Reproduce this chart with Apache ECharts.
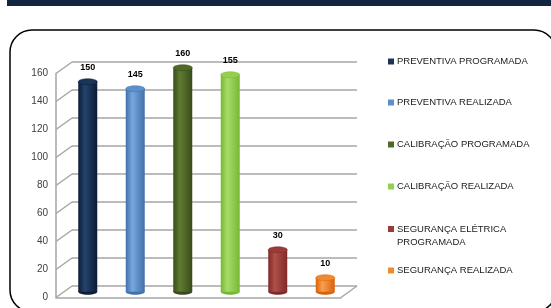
<!DOCTYPE html>
<html lang="pt">
<head>
    <meta charset="UTF-8">
    <script type="text/javascript" src="https://cdn.jsdelivr.net/npm/echarts@6/dist/echarts.min.js"></script>
    <title>Manutenções</title>
    <style>
        html, body { margin: 0; padding: 0; background: #fff; }
    </style>
</head>
<body>
<div id="main" style="width: 551px;height:308px;"></div>
<script type="text/javascript">
    // dados do gráfico
    var categorias = ['PREVENTIVA PROGRAMADA', 'PREVENTIVA REALIZADA', 'CALIBRAÇÃO PROGRAMADA',
        'CALIBRAÇÃO REALIZADA', 'SEGURANÇA ELÉTRICA\nPROGRAMADA', 'SEGURANÇA REALIZADA'];
    var valores = [150, 145, 160, 155, 30, 10];
    var yTicks = [0, 20, 40, 60, 80, 100, 120, 140, 160];

    // cores dos cilindros: [borda escura, brilho, tampa]
    var cores = [
        ['#0b1c35', '#24436d', '#1a3558'],
        ['#3f71ad', '#79a6dc', '#5d8fcc'],
        ['#394b1c', '#5f7d2f', '#4f6a26'],
        ['#77b833', '#a6dc68', '#94d050'],
        ['#7f2a28', '#b0504a', '#9c3a37'],
        ['#d8620a', '#f9a04e', '#f08a2e']
    ];
    var legendaY = [55, 96, 138, 180, 209.5, 264];
    var cinza = '#a6a6a6';

    var myChart = echarts.init(document.getElementById('main'));

    function cilindro(params, api) {
        var i = api.value(0);
        var base = api.coord([i, 0]);
        var topo = api.coord([i, api.value(1)]);
        var c = cores[params.seriesIndex];
        var w = 19, rx = w / 2, ry = 3;
        return {
            type: 'group',
            children: [
                {type: 'ellipse', shape: {cx: base[0], cy: base[1], rx: rx, ry: ry}, style: {fill: c[0]}},
                {
                    type: 'rect',
                    shape: {x: base[0] - rx, y: topo[1], width: w, height: base[1] - topo[1]},
                    style: {
                        fill: new echarts.graphic.LinearGradient(0, 0, 1, 0, [
                            {offset: 0, color: c[0]},
                            {offset: 0.35, color: c[1]},
                            {offset: 1, color: c[0]}
                        ])
                    }
                },
                {type: 'ellipse', shape: {cx: topo[0], cy: topo[1], rx: rx, ry: ry}, style: {fill: c[2], stroke: c[0], lineWidth: 0.5}},
                {
                    type: 'text',
                    style: {
                        text: String(api.value(1)), x: topo[0], y: topo[1] - 14,
                        align: 'center', verticalAlign: 'middle',
                        fontSize: 9, fontWeight: 'bold', fontFamily: 'Liberation Sans', fill: '#000'
                    }
                }
            ]
        };
    }

    // linhas laterais da "parede" 3D
    function parede(params, api) {
        var cs = params.coordSys;
        var p = api.coord([0, api.value(0)]);
        var dx = 16, dy = -11.5;
        var kids = [{
            type: 'line',
            shape: {x1: cs.x, y1: p[1], x2: cs.x + dx, y2: p[1] + dy},
            style: {stroke: cinza, lineWidth: 1.5}
        }];
        if (api.value(0) === 0) {
            kids.push({
                type: 'line',
                shape: {x1: cs.x + cs.width, y1: p[1], x2: cs.x + cs.width + dx, y2: p[1] + dy},
                style: {stroke: cinza, lineWidth: 1.5}
            });
        }
        return {type: 'group', children: kids};
    }

    var series = [];
    var legendas = [];
    for (var i = 0; i < categorias.length; i++) {
        series.push({
            name: categorias[i],
            type: 'custom',
            xAxisIndex: 2,
            yAxisIndex: 2,
            itemStyle: {color: cores[i][2]},
            renderItem: cilindro,
            data: [[i, valores[i]]],
            z: 5
        });
        var duas = categorias[i].indexOf('\n') >= 0;
        var leg = {
            data: [categorias[i]],
            left: 388,
            top: legendaY[i],
            padding: 0,
            orient: 'vertical',
            selectedMode: false,
            itemWidth: 6,
            itemHeight: 6,
            icon: 'rect',
            textStyle: {
                fontSize: 9.5, fontFamily: 'Liberation Sans', color: '#1a1a1a', lineHeight: 13,
                padding: [0, 0, 0, -2]
            }
        };
        if (duas) {
            // linha vazia em cima para o ícone ficar alinhado à primeira linha
            leg.formatter = function (name) {
                return '{e| }\n' + name.split('\n').map(function (s) { return '{a|' + s + '}'; }).join('\n');
            };
            leg.textStyle.rich = {
                e: {lineHeight: 13, fontSize: 9.5},
                a: {lineHeight: 13, fontSize: 9.5, fontFamily: 'Liberation Sans', color: '#1a1a1a'}
            };
        }
        legendas.push(leg);
    }
    series.push({
        type: 'custom',
        xAxisIndex: 1,
        yAxisIndex: 1,
        renderItem: parede,
        data: yTicks.map(function (v) { return [v]; }),
        silent: true,
        z: 1
    });

    var option = {
        animation: false,
        legend: legendas,
        graphic: [
            {type: 'rect', shape: {x: 7, y: 0, width: 544, height: 6}, style: {fill: '#12243f'}},
            {type: 'rect', shape: {x: 10, y: 30, width: 546, height: 282, r: 22}, style: {fill: 'none', stroke: '#000', lineWidth: 1.5}}
        ],
        grid: [
            {left: 72, top: 62, width: 285, height: 224},
            {left: 56, top: 73.5, width: 285, height: 224},
            {left: 64, top: 67.75, width: 285, height: 224}
        ],
        xAxis: [
            {gridIndex: 0, type: 'category', data: categorias, show: false},
            {
                gridIndex: 1, type: 'category', data: categorias,
                axisLine: {show: true, lineStyle: {color: cinza, width: 1.5}},
                axisTick: {show: false}, axisLabel: {show: false}
            },
            {gridIndex: 2, type: 'category', data: categorias, show: false}
        ],
        yAxis: [
            {
                gridIndex: 0, type: 'value', min: 0, max: 160, interval: 20,
                axisLine: {show: false}, axisTick: {show: false}, axisLabel: {show: false},
                splitLine: {show: true, lineStyle: {color: cinza, width: 1.5}}
            },
            {
                gridIndex: 1, type: 'value', min: 0, max: 160, interval: 20,
                axisLine: {show: true, lineStyle: {color: cinza, width: 1.5}},
                axisTick: {show: false}, splitLine: {show: false},
                axisLabel: {margin: 8, fontSize: 10, fontFamily: 'Liberation Sans', color: '#404040'}
            },
            {gridIndex: 2, type: 'value', min: 0, max: 160, interval: 20, show: false, splitLine: {show: false}}
        ],
        series: series
    };
    myChart.setOption(option);
</script>
</body>
</html>
